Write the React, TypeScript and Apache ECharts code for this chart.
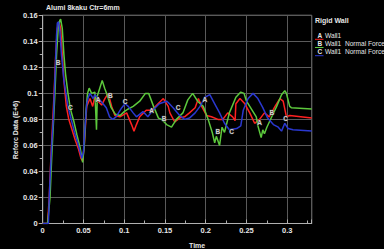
import React, { useEffect, useRef } from "react";
import * as echarts from "echarts";

const title = "Alumi 8kaku Ctr=6mm";
const xName = "Time";
const yName = "Reforc Data (E+6)";
const legendTitle = "Rigid Wall";
const seriesNames = ["Wall1", "Wall1  Normal Force", "Wall1  Normal Force"];
const seriesLetters = ["A", "B", "C"];
const seriesColors = ["#ff2020", "#5cc83c", "#2a38d0"];

const wallA: number[][] = [
  [0, 0], [0.006, 0], [0.008, 0.02], [0.010, 0.05], [0.012, 0.075], [0.014, 0.1], [0.016, 0.13],
  [0.018, 0.15], [0.020, 0.155], [0.022, 0.15], [0.024, 0.13], [0.026, 0.11], [0.029, 0.09],
  [0.032, 0.08], [0.036, 0.072], [0.040, 0.064], [0.044, 0.057], [0.047, 0.05], [0.049, 0.048],
  [0.051, 0.06], [0.053, 0.08], [0.054, 0.09], [0.058, 0.096], [0.0613, 0.09], [0.064, 0.0975],
  [0.068, 0.094], [0.0723, 0.091], [0.0763, 0.096], [0.0804, 0.1], [0.0846, 0.09], [0.0886, 0.083],
  [0.0947, 0.082], [0.103, 0.085], [0.109, 0.076], [0.112, 0.071], [0.115, 0.076], [0.119, 0.082],
  [0.127, 0.087], [0.134, 0.087], [0.14, 0.091], [0.148, 0.096], [0.154, 0.09], [0.156, 0.085],
  [0.162, 0.078], [0.168, 0.081], [0.174, 0.082], [0.18, 0.085], [0.187, 0.089], [0.191, 0.096],
  [0.195, 0.09], [0.201, 0.083], [0.207, 0.082], [0.215, 0.08], [0.221, 0.08], [0.227, 0.085],
  [0.233, 0.082], [0.236, 0.079], [0.237, 0.092], [0.242, 0.096], [0.248, 0.092], [0.254, 0.085],
  [0.26, 0.077], [0.266, 0.08], [0.272, 0.085], [0.278, 0.082], [0.285, 0.09], [0.291, 0.096],
  [0.295, 0.094], [0.299, 0.082], [0.303, 0.083], [0.33, 0.081],
];

const wallB: number[][] = [
  [0, 0], [0.006, 0], [0.009, 0.02], [0.011, 0.05], [0.013, 0.075], [0.015, 0.1], [0.017, 0.13],
  [0.019, 0.15], [0.021, 0.156], [0.022, 0.157], [0.024, 0.15], [0.026, 0.13], [0.028, 0.115],
  [0.031, 0.1], [0.034, 0.088], [0.038, 0.079], [0.042, 0.068], [0.046, 0.058], [0.049, 0.047],
  [0.051, 0.06], [0.053, 0.085], [0.055, 0.1], [0.057, 0.104], [0.06, 0.1], [0.064, 0.101],
  [0.066, 0.072], [0.067, 0.098], [0.07, 0.104], [0.073, 0.11], [0.076, 0.104], [0.079, 0.099],
  [0.084, 0.089], [0.089, 0.084], [0.095, 0.083], [0.1, 0.086], [0.105, 0.088], [0.111, 0.09],
  [0.119, 0.094], [0.126, 0.1], [0.13, 0.1], [0.136, 0.09], [0.142, 0.081], [0.146, 0.08],
  [0.152, 0.076], [0.158, 0.074], [0.164, 0.08], [0.172, 0.085], [0.178, 0.095], [0.184, 0.1],
  [0.19, 0.094], [0.197, 0.09], [0.203, 0.08], [0.208, 0.07], [0.211, 0.062], [0.213, 0.067],
  [0.217, 0.06], [0.22, 0.074], [0.223, 0.07], [0.229, 0.085], [0.237, 0.097], [0.243, 0.101],
  [0.247, 0.1], [0.25, 0.094], [0.254, 0.09], [0.262, 0.082], [0.264, 0.075], [0.268, 0.066],
  [0.27, 0.072], [0.272, 0.069], [0.275, 0.074], [0.281, 0.082], [0.287, 0.09], [0.293, 0.099],
  [0.297, 0.102], [0.299, 0.1], [0.303, 0.09], [0.305, 0.089], [0.33, 0.088],
];

const wallC: number[][] = [
  [0, 0], [0.007, 0], [0.008, 0.02], [0.0095, 0.04], [0.011, 0.06], [0.013, 0.08], [0.0155, 0.12],
  [0.017, 0.145], [0.018, 0.154], [0.0195, 0.155], [0.021, 0.148], [0.023, 0.13], [0.026, 0.11],
  [0.031, 0.09], [0.035, 0.08], [0.039, 0.07], [0.043, 0.062], [0.046, 0.055], [0.048, 0.05],
  [0.05, 0.055], [0.052, 0.075], [0.054, 0.092], [0.056, 0.097], [0.058, 0.1], [0.062, 0.096],
  [0.064, 0.099], [0.07, 0.095], [0.074, 0.092], [0.078, 0.089], [0.082, 0.082], [0.086, 0.08],
  [0.09, 0.082], [0.097, 0.089], [0.101, 0.092], [0.105, 0.09], [0.111, 0.085], [0.115, 0.082],
  [0.123, 0.086], [0.129, 0.082], [0.135, 0.087], [0.143, 0.092], [0.152, 0.094], [0.154, 0.093],
  [0.16, 0.089], [0.168, 0.083], [0.174, 0.08], [0.18, 0.081], [0.187, 0.085], [0.193, 0.09],
  [0.199, 0.097], [0.205, 0.099], [0.211, 0.092], [0.217, 0.085], [0.223, 0.077], [0.229, 0.072],
  [0.238, 0.073], [0.243, 0.075], [0.246, 0.087], [0.252, 0.096], [0.258, 0.1], [0.264, 0.096],
  [0.27, 0.089], [0.276, 0.081], [0.283, 0.076], [0.289, 0.074], [0.293, 0.071], [0.297, 0.077],
  [0.301, 0.073], [0.307, 0.072], [0.33, 0.071],
];

const markersA: number[][] = [[0.068, 0.095], [0.1335, 0.087], [0.199, 0.095], [0.266, 0.078], [0.331, 0.083]];
const markersB: number[][] = [[0.019, 0.124], [0.083, 0.098], [0.149, 0.081], [0.215, 0.071], [0.281, 0.085]];
const markersC: number[][] = [[0.034, 0.089], [0.101, 0.094], [0.166, 0.089], [0.2316, 0.071], [0.298, 0.081]];

const FONT = "Liberation Sans, Arial, sans-serif";
const TXT = "#e6e6e6";

export default function App() {
  const ref = useRef<HTMLDivElement>(null);
  useEffect(() => {
    if (!ref.current) return;
    const chart = echarts.init(ref.current, undefined, { renderer: "svg" });
    const lines = [wallA, wallB, wallC];
    const markers = [markersA, markersB, markersC];
    const series: any[] = [];
    lines.forEach((d, i) => {
      series.push({
        type: "line",
        name: seriesLetters[i],
        data: d,
        showSymbol: false,
        symbol: "none",
        lineStyle: { color: seriesColors[i], width: 1.5 },
        z: 2 + i,
      });
    });
    markers.forEach((d, i) => {
      series.push({
        type: "scatter",
        data: d,
        symbolSize: 1,
        itemStyle: { color: "rgba(0,0,0,0)" },
        label: {
          show: true,
          position: "inside",
          formatter: () => seriesLetters[i],
          color: "#ffffff",
          fontSize: 6.5,
          fontWeight: "bold",
          fontFamily: FONT,
          textBorderColor: "#333",
          textBorderWidth: 1,
        },
        z: 10,
      });
    });
    const legendG: any[] = [
      { type: "text", left: 315, top: 17, style: { text: legendTitle, fill: TXT, font: `bold 7px ${FONT}` } },
    ];
    seriesNames.forEach((n, i) => {
      const y = 32 + i * 8.2;
      legendG.push({ type: "text", left: 317.5, top: y, style: { text: seriesLetters[i], fill: TXT, font: `bold 6.5px ${FONT}` } });
      legendG.push({ type: "text", left: 325, top: y, style: { text: n, fill: TXT, font: `6.6px ${FONT}` } });
      legendG.push({ type: "line", shape: { x1: 315, y1: y + 7.3, x2: 323.5, y2: y + 7.3 }, style: { stroke: seriesColors[i], lineWidth: 1 } });
    });
    chart.setOption({
      animation: false,
      backgroundColor: "#000000",
      grid: { left: 42.7, right: 72.3, top: 15.3, bottom: 25.5, show: true, borderColor: "#b0b0b0", borderWidth: 1 },
      xAxis: {
        type: "value",
        min: 0,
        max: 0.33,
        interval: 0.05,
        axisLine: { show: true, lineStyle: { color: "#b0b0b0" } },
        axisTick: { show: true, inside: true, length: 4, lineStyle: { color: "#b0b0b0" } },
        minorTick: { show: true, splitNumber: 2, length: 3, lineStyle: { color: "#b0b0b0" } },
        splitLine: { show: true, lineStyle: { color: "#5a5a5a", width: 1 } },
        axisLabel: { color: TXT, fontSize: 7.5, fontWeight: "bold", fontFamily: FONT, margin: 3, showMaxLabel: false },
      },
      yAxis: {
        type: "value",
        min: 0,
        max: 0.16,
        interval: 0.02,
        axisLine: { show: true, lineStyle: { color: "#b0b0b0" } },
        axisTick: { show: true, length: 4, lineStyle: { color: "#b0b0b0" } },
        minorTick: { show: true, splitNumber: 2, length: 3, lineStyle: { color: "#b0b0b0" } },
        splitLine: { show: true, lineStyle: { color: "#5a5a5a", width: 1 } },
        axisLabel: { color: TXT, fontSize: 7.5, fontWeight: "bold", fontFamily: FONT, margin: 5 },
      },
      graphic: [
        { type: "text", left: 46, top: 4, style: { text: title, fill: TXT, font: `bold 7px ${FONT}` } },
        { type: "text", left: 189, top: 242, style: { text: xName, fill: TXT, font: `bold 7px ${FONT}` } },
        {
          type: "text",
          x: 15,
          y: 130,
          rotation: Math.PI / 2,
          style: { text: yName, fill: TXT, font: `bold 7px ${FONT}`, align: "center", verticalAlign: "middle" },
        },
        ...legendG,
      ],
      series,
    });
    return () => chart.dispose();
  }, []);
  return <div ref={ref} style={{ width: 384, height: 249, position: "fixed", left: 0, top: 0 }} />;
}
